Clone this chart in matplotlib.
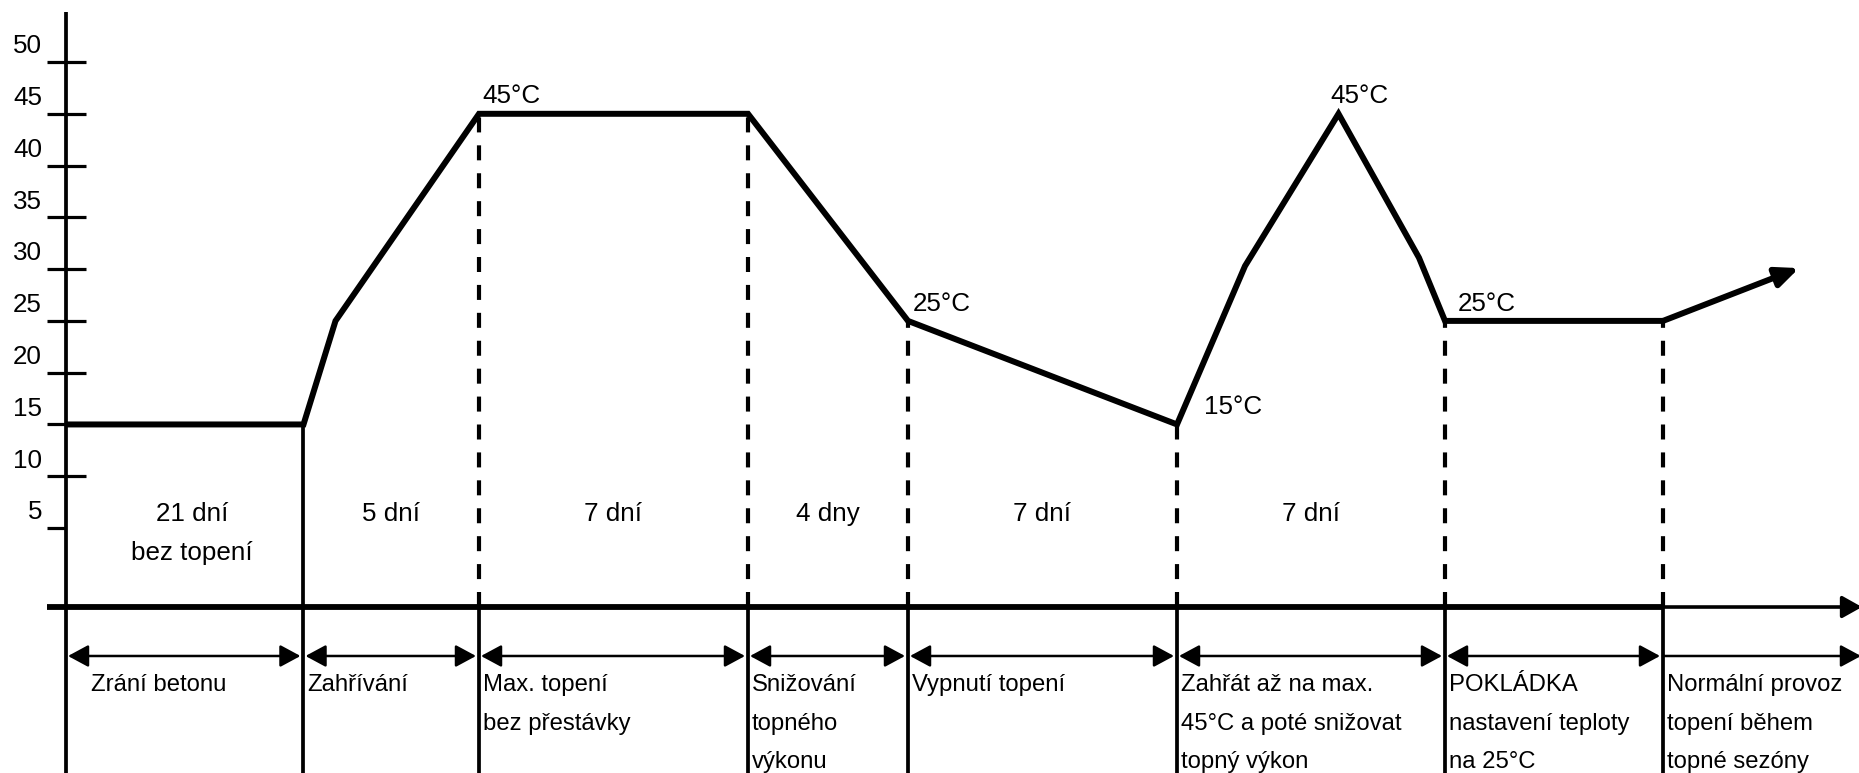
import matplotlib
matplotlib.use("Agg")
import matplotlib.pyplot as plt

plt.rcParams['font.family'] = ['Liberation Sans', 'DejaVu Sans']

# teplotni profil (x = poloha v diagramu, t = teplota ve °C)
profil_x = [66, 303.5, 335.5, 479, 748, 908, 1177, 1245, 1338.5, 1419, 1445, 1663, 1799]
profil_t = [15, 15, 25, 45, 45, 25, 15, 30.3, 45, 31.1, 25, 25, 30.1]

# hranice jednotlivych fazi
hranice = [66, 303.5, 479, 748, 908, 1177, 1445, 1663]
teplota_hranice = [15, 15, 45, 45, 25, 15, 25, 25]

y_ticky = [5, 10, 15, 20, 25, 30, 35, 40, 45, 50]

popisky_teplot = ["45°C", "25°C", "15°C", "45°C", "25°C"]
popisky_teplot_x = [482, 913, 1204, 1330, 1458]
popisky_teplot_t = [45, 25, 15, 45, 25]

doby = [["21 dní", "bez topení"], ["5 dní"], ["7 dní"], ["4 dny"], ["7 dní"], ["7 dní"]]

faze = [
    ["Zrání betonu"],
    ["Zahřívání"],
    ["Max. topení", "bez přestávky"],
    ["Snižování", "topného", "výkonu"],
    ["Vypnutí topení"],
    ["Zahřát až na max.", "45°C a poté snižovat", "topný výkon"],
    ["POKLÁDKA", "nastavení teploty", "na 25°C"],
    ["Normální provoz", "topení během", "topné sezóny"],
]

W, H = 1859, 773
Y_MIN, Y_MAX = -18.66, 55.99
OSA_X = -2.63
RADA_SIPEK = -7.36
RADKY_FAZI = [-10.74, -14.46, -18.2]
RADKY_DOB = [5.69, 1.89]

fig = plt.figure(figsize=(W / 100, H / 100), dpi=100)
ax = fig.add_axes([0, 0, 1, 1])
ax.set_xlim(0, W)
ax.set_ylim(Y_MIN, Y_MAX)
ax.axis('off')

FS_VELKE = 18.7
FS_MALE = 17.2

# osa y
ax.plot([66, 66], [Y_MIN, 54.8], color='black', lw=2.7, solid_capstyle='butt')
for t in y_ticky:
    konec = 66 if t == 5 else 86
    ax.plot([47, konec], [t, t], color='black', lw=2.3, solid_capstyle='butt')
    ax.text(42, t + 0.84, str(t), ha='right', va='baseline', fontsize=FS_VELKE)

# osa x
ax.plot([47, hranice[-1]], [OSA_X, OSA_X], color='black', lw=4.2, solid_capstyle='butt')
ax.annotate('', xy=(W + 3, OSA_X), xytext=(hranice[-1], OSA_X),
            arrowprops=dict(arrowstyle='-|>,head_length=0.5,head_width=0.28',
                            mutation_scale=24, color='black', lw=2.6,
                            shrinkA=0, shrinkB=0),
            annotation_clip=False)

# svisle hranice
for i, (x, t) in enumerate(zip(hranice[1:], teplota_hranice[1:])):
    ax.plot([x, x], [Y_MIN, OSA_X], color='black', lw=2.7, solid_capstyle='butt')
    if i == 0:
        ax.plot([x, x], [OSA_X, t], color='black', lw=2.7, solid_capstyle='butt')
    else:
        ax.plot([x, x], [OSA_X, t], color='black', lw=3.0,
                dashes=(3.6, 3.1), solid_capstyle='butt')

# teplotni krivka
ax.plot(profil_x[:-1], profil_t[:-1], color='black', lw=4.3,
        solid_joinstyle='miter', solid_capstyle='butt')
ax.annotate('', xy=(profil_x[-1], profil_t[-1]), xytext=(profil_x[-2], profil_t[-2]),
            arrowprops=dict(arrowstyle='-|>,head_length=0.5,head_width=0.22',
                            mutation_scale=27, color='black', lw=4.3,
                            shrinkA=0, shrinkB=0))

for txt, x, t in zip(popisky_teplot, popisky_teplot_x, popisky_teplot_t):
    ax.text(x, t + 1.0, txt, ha='left', va='baseline', fontsize=FS_VELKE)

# pocty dni
for i, radky in enumerate(doby):
    xc = (hranice[i] + hranice[i + 1]) / 2
    if i == 0:
        xc += 7
    for y, r in zip(RADKY_DOB, radky):
        ax.text(xc, y, r, ha='center', va='baseline', fontsize=FS_VELKE)

# sipky pod osou
for a, b in zip(hranice[:-1], hranice[1:]):
    ax.annotate('', xy=(b - 3, RADA_SIPEK), xytext=(a + 2, RADA_SIPEK),
                arrowprops=dict(arrowstyle='<|-|>,head_length=0.5,head_width=0.27',
                                mutation_scale=25, color='black', lw=1.8,
                                shrinkA=0, shrinkB=0))
ax.annotate('', xy=(W + 2, RADA_SIPEK), xytext=(hranice[-1], RADA_SIPEK),
            arrowprops=dict(arrowstyle='-|>,head_length=0.5,head_width=0.27',
                            mutation_scale=25, color='black', lw=1.8,
                            shrinkA=0, shrinkB=0),
            annotation_clip=False)

# popisky fazi
for i, radky in enumerate(faze):
    x = 91 if i == 0 else hranice[i] + 4
    for y, r in zip(RADKY_FAZI, radky):
        ax.text(x, y, r, ha='left', va='baseline', fontsize=FS_MALE)

fig.savefig('out.png', dpi=100)
